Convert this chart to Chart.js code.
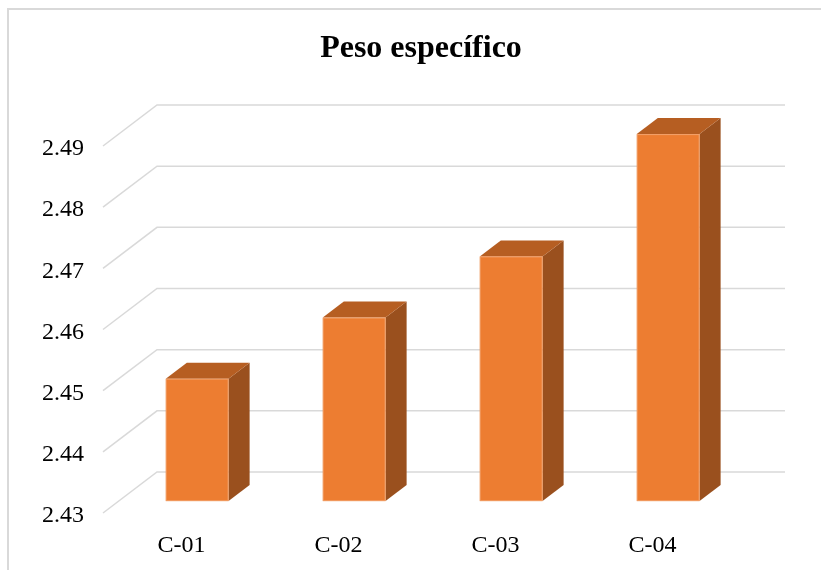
<!DOCTYPE html>
<html>
<head>
<meta charset="utf-8">
<script src="https://cdn.jsdelivr.net/npm/chart.js@4/dist/chart.umd.min.js"></script>
<style>
  html, body { margin: 0; padding: 0; background: #ffffff; }
  #wrap { width: 821px; height: 570px; position: relative; }
</style>
</head>
<body>
<div id="wrap"><canvas id="c" width="821" height="570"></canvas></div>
<script>
// ---- data ----
const categories = ['C-01', 'C-02', 'C-03', 'C-04'];
const pesoValues = [2.45, 2.46, 2.47, 2.49];
const yTickValues = [2.43, 2.44, 2.45, 2.46, 2.47, 2.48, 2.49];
const chartTitle = 'Peso específico';

// ---- styles ----
const SERIF = '"Liberation Serif", "Times New Roman", serif';
const GRID_COLOR = '#D9D9D9';
const FRONT = '#ED7D31';
const TOP = '#B65E22';
const SIDE = '#9A501E';
const WALL_DEPTH = { x: 54, y: -41 };     // depth of the 3D box
const BAR_FRONT_FRAC = 0.29;              // bar front face position in depth
const BAR_DEPTH_FRAC = 0.39;              // bar depth as fraction of box depth

const threeD = {
  id: 'threeD',
  beforeDraw(chart) {
    const ctx = chart.ctx;
    ctx.save();
    ctx.fillStyle = '#ffffff';
    ctx.fillRect(0, 0, chart.width, chart.height);
    ctx.strokeStyle = GRID_COLOR;
    ctx.lineWidth = 2;
    ctx.strokeRect(8, 9, chart.width + 40, chart.height + 40);
    // title
    ctx.fillStyle = '#000000';
    ctx.font = 'bold 32px ' + SERIF;
    ctx.textAlign = 'center';
    ctx.textBaseline = 'middle';
    ctx.fillText(chartTitle, 421, 49);
    ctx.restore();
  },
  beforeDatasetsDraw(chart) {
    const ctx = chart.ctx;
    const ys = chart.scales.y;
    const area = chart.chartArea;
    ctx.save();
    ctx.strokeStyle = GRID_COLOR;
    ctx.lineWidth = 1.5;
    ys.ticks.forEach(t => {
      const y = ys.getPixelForValue(t.value);
      ctx.beginPath();
      ctx.moveTo(area.left, y);
      ctx.lineTo(area.left + WALL_DEPTH.x, y + WALL_DEPTH.y);
      ctx.lineTo(area.right + WALL_DEPTH.x, y + WALL_DEPTH.y);
      ctx.stroke();
    });
    ctx.restore();
  },
  afterDatasetsDraw(chart) {
    const ctx = chart.ctx;
    const ys = chart.scales.y;
    const meta = chart.getDatasetMeta(0);
    const ox = WALL_DEPTH.x * BAR_FRONT_FRAC, oy = WALL_DEPTH.y * BAR_FRONT_FRAC;
    const dx = WALL_DEPTH.x * BAR_DEPTH_FRAC, dy = WALL_DEPTH.y * BAR_DEPTH_FRAC;
    const basePx = ys.getPixelForValue(ys.min);
    ctx.save();
    meta.data.forEach(bar => {
      const p = bar.getProps(['x', 'y', 'width'], true);
      const l = p.x - p.width / 2 + ox, r = p.x + p.width / 2 + ox;
      const t = p.y + oy, b = basePx + oy;
      // side
      ctx.fillStyle = SIDE;
      ctx.beginPath();
      ctx.moveTo(r, t); ctx.lineTo(r + dx, t + dy); ctx.lineTo(r + dx, b + dy); ctx.lineTo(r, b);
      ctx.closePath(); ctx.fill();
      // top
      ctx.fillStyle = TOP;
      ctx.beginPath();
      ctx.moveTo(l, t); ctx.lineTo(l + dx, t + dy); ctx.lineTo(r + dx, t + dy); ctx.lineTo(r, t);
      ctx.closePath(); ctx.fill();
      // front
      ctx.fillStyle = FRONT;
      ctx.fillRect(l, t, r - l, b - t);
      ctx.strokeStyle = 'rgba(244,177,131,0.6)';
      ctx.lineWidth = 1;
      ctx.strokeRect(l + 0.5, t + 0.5, r - l - 1, b - t - 1);
    });
    ctx.restore();
  }
};

new Chart(document.getElementById('c'), {
  type: 'bar',
  data: {
    labels: categories,
    datasets: [{
      label: chartTitle,
      data: pesoValues,
      backgroundColor: 'rgba(0,0,0,0)',
      borderWidth: 0,
      categoryPercentage: 1.0,
      barPercentage: 0.4
    }]
  },
  options: {
    responsive: false,
    animation: false,
    events: [],
    layout: { padding: { left: 0, right: 90, top: 146, bottom: 0 } },
    plugins: {
      legend: { display: false },
      tooltip: { enabled: false },
      title: { display: false }
    },
    scales: {
      x: {
        grid: { display: false, drawTicks: false },
        border: { display: false },
        ticks: {
          color: '#000000',
          padding: 18,
          font: { family: SERIF, size: 24 }
        },
        afterFit(scale) { scale.height = 57; }
      },
      y: {
        min: 2.43,
        max: 2.49,
        grid: { display: false, drawTicks: false },
        border: { display: false },
        afterBuildTicks(scale) { scale.ticks = yTickValues.map(v => ({ value: v })); },
        ticks: {
          color: '#000000',
          padding: 19,
          labelOffset: 3,
          font: { family: SERIF, size: 24 },
          callback: v => Number(v).toFixed(2)
        },
        afterFit(scale) { scale.width = 103; }
      }
    }
  },
  plugins: [threeD]
});
</script>
</body>
</html>
